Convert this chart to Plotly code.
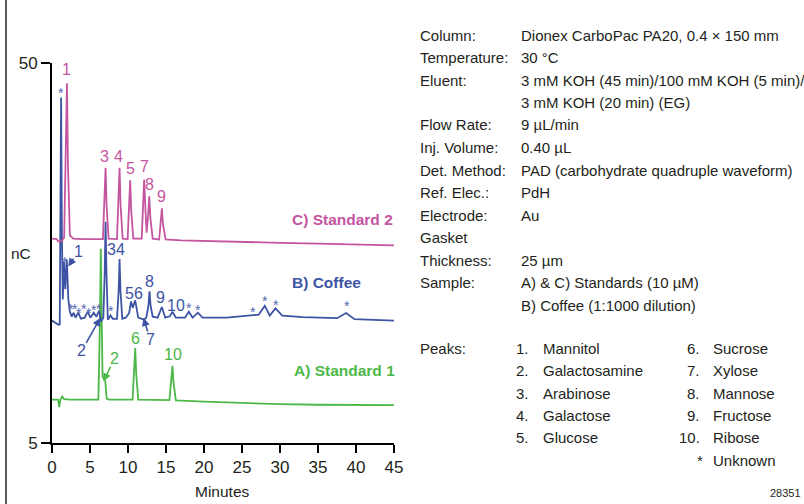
import plotly.graph_objects as go

# ---------------- data ----------------
# C) Standard 2 (magenta)
std2_time = [0.0, 0.6, 0.85, 1.25, 1.6, 1.82, 1.97, 2.1, 2.35, 2.8, 4.0, 6.7,
             6.92, 7.05, 7.18, 7.45,
             8.55, 8.76, 8.89, 9.02, 9.3,
             9.95, 10.16, 10.29, 10.42, 10.7,
             11.8, 12.0, 12.13, 12.3, 12.45, 12.65, 12.79, 12.95, 13.25,
             14.1, 14.33, 14.46, 14.6, 14.95,
             17.0, 20.0, 25.0, 30.0, 35.0, 40.0, 45.0]
std2_signal = [29.2, 29.15, 28.85, 28.9, 29.3, 38.5, 47.6, 38.0, 29.6, 29.2, 29.15, 29.15,
               33.5, 37.6, 33.2, 29.2,
               29.15, 33.5, 37.6, 33.2, 29.2,
               29.15, 32.8, 36.1, 32.5, 29.2,
               29.2, 32.9, 36.2, 32.5, 29.9, 32.0, 34.2, 31.6, 29.2,
               29.1, 31.0, 32.8, 30.9, 29.1,
               29.0, 28.95, 28.85, 28.7, 28.6, 28.5, 28.4]

# B) Coffee (blue)
coffee_time = [0.0, 0.85, 1.02, 1.12, 1.2, 1.3, 1.42, 1.6, 1.75, 1.95, 2.15, 2.35,
               2.6, 2.85, 3.1, 3.45, 3.8, 4.3, 4.7, 5.05, 5.5, 5.85, 6.2, 6.45, 6.75,
               6.93, 7.05, 7.17, 7.35, 7.7, 8.0, 8.55, 8.77, 8.89, 9.01, 9.25, 9.7,
               10.15, 10.4, 10.62, 10.95, 11.35, 12.1, 12.4, 12.68, 12.83, 12.98, 13.25,
               13.9, 14.46, 14.9, 15.5, 15.85, 16.3, 17.5, 18.0, 18.5, 19.2, 19.8,
               23.0, 26.5, 27.2, 28.0, 28.65, 29.4, 30.3, 33.0, 37.5, 38.7, 39.8, 45.0]
coffee_signal = [19.5, 19.0, 19.05, 33.0, 45.9, 30.0, 22.0, 26.5, 23.2, 26.7, 22.0, 20.55,
                 19.96, 20.43, 19.84, 20.43, 19.72, 19.84, 20.55, 19.84, 20.43, 19.96, 20.67, 19.37, 19.84,
                 25.0, 31.2, 25.0, 19.6, 20.1, 19.7, 19.7, 23.0, 26.8, 23.0, 19.72, 19.84,
                 20.4, 21.77, 21.0, 21.9, 19.84, 19.6, 19.84, 21.2, 22.95, 21.2, 19.96,
                 19.84, 21.1, 19.84, 20.0, 20.55, 19.84, 19.84, 20.55, 19.84, 20.43, 19.84,
                 19.84, 20.08, 20.2, 21.26, 20.08, 20.94, 20.08, 19.9, 19.78, 20.4, 19.66, 19.48]

# A) Standard 1 (green)
std1_time = [0.0, 0.8, 0.95, 1.1, 1.35, 1.6, 2.5, 6.1, 6.3, 6.42, 6.55, 6.65, 6.85, 7.0, 7.2, 7.5,
             10.6, 10.82, 10.95, 11.08, 11.35,
             15.45, 15.72, 15.85, 15.98, 16.3,
             20.0, 25.0, 30.0, 35.0, 45.0]
std1_signal = [10.13, 10.13, 9.26, 10.13, 10.52, 10.19, 10.13, 10.13, 19.0, 28.0, 19.0, 12.9, 12.5, 12.4, 10.25, 10.13,
               10.13, 13.4, 16.25, 13.2, 10.13,
               10.08, 12.3, 14.15, 12.2, 10.05,
               9.89, 9.71, 9.6, 9.53, 9.48]

x_tick_values = [0, 5, 10, 15, 20, 25, 30, 35, 40, 45]
y_tick_values = [5, 50]
y_tick_text = ["5", "50"]

# peak labels: text, time, signal
std2_labels = ["1", "3", "4", "5", "7", "8", "9"]
std2_label_t = [1.97, 6.88, 8.76, 10.29, 12.13, 12.83, 14.37]
std2_label_v = [49.2, 38.94, 38.94, 37.45, 37.69, 35.67, 34.2]

coffee_labels = ["34", "56", "8", "9", "10"]
coffee_label_t = [8.43, 10.78, 12.83, 14.33, 16.36]
coffee_label_v = [27.97, 22.76, 24.14, 22.29, 21.26]

std1_labels = ["6", "10"]
std1_label_t = [10.95, 15.9]
std1_label_v = [17.32, 15.46]

unknown_t = [1.18, 1.71, 2.54, 3.0, 3.5, 4.15, 4.9, 5.56, 6.22, 7.76, 18.05, 19.27, 26.5, 28.04, 29.49, 38.78]
unknown_v = [46.76, 26.79, 21.18, 21.18, 20.79, 21.18, 20.79, 21.14, 21.26, 21.02, 21.34, 21.11, 20.9, 22.17, 21.7, 21.58]

# arrow-pointed labels: text, head time, head signal, label time, label signal
coffee_arrow_labels = ["1", "2", "7"]
coffee_arrow_t = [2.14, 6.35, 12.04]
coffee_arrow_v = [25.91, 19.8, 19.8]
coffee_arrow_label_t = [3.5, 3.94, 12.92]
coffee_arrow_label_v = [27.69, 15.97, 17.23]
std1_arrow_labels = ["2"]
std1_arrow_t = [6.78]
std1_arrow_v = [12.3]
std1_arrow_label_t = [8.19]
std1_arrow_label_v = [14.95]

param_labels = ["Column:", "Temperature:", "Eluent:", "", "Flow Rate:", "Inj. Volume:",
                "Det. Method:", "Ref. Elec.:", "Electrode:", "Gasket", "Thickness:", "Sample:", ""]
param_values = ["Dionex CarboPac PA20, 0.4 × 150 mm", "30 °C",
                "3 mM KOH (45 min)/100 mM KOH (5 min)/", "3 mM KOH (20 min) (EG)",
                "9 µL/min", "0.40 µL", "PAD (carbohydrate quadruple waveform)", "PdH", "Au", "",
                "25 µm", "A) & C) Standards (10 µM)", "B) Coffee (1:1000 dilution)"]
peak_numbers_left = ["1.", "2.", "3.", "4.", "5."]
peak_names_left = ["Mannitol", "Galactosamine", "Arabinose", "Galactose", "Glucose"]
peak_numbers_right = ["6.", "7.", "8.", "9.", "10.", "*"]
peak_names_right = ["Sucrose", "Xylose", "Mannose", "Fructose", "Ribose", "Unknown"]

# ---------------- styling ----------------
PINK = "#c4559f"
BLUE = "#3d54a4"
GREEN = "#4cb848"
TXT = "#231f20"
FONT = "Liberation Sans, Arial, Helvetica, sans-serif"

W, H = 804, 504
L, R, T, B = 52, 410, 63, 61
PW, PH = W - L - R, H - T - B


def pxx(x):
    return (x - L) / PW


def pxy(y):
    return (H - B - y) / PH


fig = go.Figure()
for t, v, c in [(std1_time, std1_signal, GREEN), (coffee_time, coffee_signal, BLUE),
                (std2_time, std2_signal, PINK)]:
    fig.add_trace(go.Scatter(x=t, y=v, mode="lines", line=dict(color=c, width=1.8),
                             hoverinfo="skip", showlegend=False))

ann = []


def label(x, y, text, color, size=16, bold=False, xanchor="center", xref="x", yref="y"):
    ann.append(dict(x=x, y=y, xref=xref, yref=yref, text=f"<b>{text}</b>" if bold else text,
                    showarrow=False, xanchor=xanchor, yanchor="middle",
                    font=dict(family=FONT, size=size, color=color)))


for txt, t, v in zip(std2_labels, std2_label_t, std2_label_v):
    label(t, v, txt, PINK)
for txt, t, v in zip(coffee_labels, coffee_label_t, coffee_label_v):
    label(t, v, txt, BLUE)
for txt, t, v in zip(std1_labels, std1_label_t, std1_label_v):
    label(t, v, txt, GREEN)
for t, v in zip(unknown_t, unknown_v):
    ann.append(dict(x=t, y=v, xref="x", yref="y", text="*", showarrow=False,
                    xanchor="center", yanchor="middle", yshift=-3, borderpad=0,
                    font=dict(family=FONT, size=14, color="#5468b0")))


def arrow(ht, hv, lt, lv, color):
    ann.append(dict(x=ht, y=hv, xref="x", yref="y", ax=lt, ay=lv, axref="x", ayref="y",
                    text="", showarrow=True, arrowhead=2, arrowsize=1, arrowwidth=1.6,
                    arrowcolor=color, standoff=0, startstandoff=7))


for txt, ht, hv, lt, lv in zip(coffee_arrow_labels, coffee_arrow_t, coffee_arrow_v,
                               coffee_arrow_label_t, coffee_arrow_label_v):
    label(lt, lv, txt, BLUE)
    arrow(ht, hv, lt, lv, BLUE)
for txt, ht, hv, lt, lv in zip(std1_arrow_labels, std1_arrow_t, std1_arrow_v,
                               std1_arrow_label_t, std1_arrow_label_v):
    label(lt, lv, txt, GREEN)
    arrow(ht, hv, lt, lv, GREEN)

# series names
label(pxx(290), pxy(219.3), "C) Standard 2", PINK, size=15.5, bold=True, xanchor="left", xref="paper", yref="paper")
label(pxx(290), pxy(282.3), "B) Coffee", BLUE, size=15.5, bold=True, xanchor="left", xref="paper", yref="paper")
label(pxx(292), pxy(370), "A) Standard 1", GREEN, size=15.5, bold=True, xanchor="left", xref="paper", yref="paper")

# axis titles
label(pxx(222), pxy(491.7), "Minutes", TXT, size=15.5, xref="paper", yref="paper")
label(pxx(20.5), pxy(253.3), "nC", TXT, size=15.5, xref="paper", yref="paper")

# conditions text
TS = 15
for i, (a, b) in enumerate(zip(param_labels, param_values)):
    y = pxy(35 + 22.5 * i)
    if a:
        label(pxx(418), y, a, TXT, size=TS, xanchor="left", xref="paper", yref="paper")
    if b:
        label(pxx(519), y, b, TXT, size=TS, xanchor="left", xref="paper", yref="paper")
label(pxx(418), pxy(348.3), "Peaks:", TXT, size=TS, xanchor="left", xref="paper", yref="paper")
for i, (n, name) in enumerate(zip(peak_numbers_left, peak_names_left)):
    y = pxy(348.3 + 22.4 * i)
    label(pxx(531), y, n, TXT, size=TS, xanchor="right", xref="paper", yref="paper")
    label(pxx(541), y, name, TXT, size=TS, xanchor="left", xref="paper", yref="paper")
for i, (n, name) in enumerate(zip(peak_numbers_right, peak_names_right)):
    y = pxy(348.3 + 22.4 * i)
    label(pxx(702 if n != "*" else 705), y, n, TXT, size=TS, xanchor="right", xref="paper", yref="paper")
    label(pxx(711), y, name, TXT, size=TS, xanchor="left", xref="paper", yref="paper")
label(pxx(803), pxy(493.3), "28351", TXT, size=11, xanchor="right", xref="paper", yref="paper")

fig.update_layout(
    width=W, height=H, margin=dict(l=L, r=R, t=T, b=B, pad=0),
    paper_bgcolor="white", plot_bgcolor="white",
    font=dict(family=FONT, size=16, color=TXT),
    annotations=ann,
    shapes=[dict(type="line", xref="paper", yref="paper", x0=pxx(6), x1=pxx(6),
                 y0=pxy(H), y1=pxy(0), line=dict(color=TXT, width=1.5))],
    xaxis=dict(range=[0, 45], tickvals=x_tick_values, ticks="outside", ticklen=8, tickwidth=1.5,
               tickcolor="black", showline=True, linecolor="black", linewidth=2,
               showgrid=False, zeroline=False, tickfont=dict(size=17, family=FONT, color=TXT)),
    yaxis=dict(range=[5, 50], tickvals=y_tick_values, ticktext=y_tick_text, ticks="outside",
               ticklen=9, tickwidth=1.5, tickcolor="black", showline=True, linecolor="black",
               linewidth=2, showgrid=False, zeroline=False,
               tickfont=dict(size=17, family=FONT, color=TXT)),
)

fig.write_html("out.html")
